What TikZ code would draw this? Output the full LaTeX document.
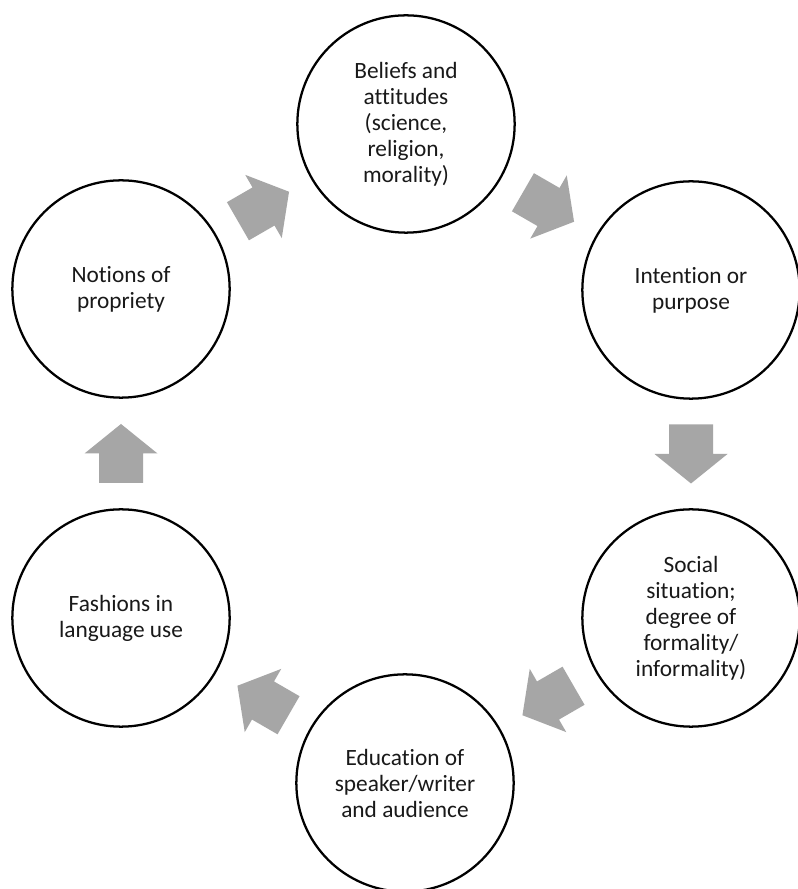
\documentclass[tikz,border=0pt]{standalone}
\usepackage{fontspec}
\setmainfont[Ligatures={NoCommon}]{Carlito}
\usetikzlibrary{calc}
\definecolor{arrowgray}{HTML}{A6A6A6}
\begin{document}
\begin{tikzpicture}[x=0.75pt,y=0.75pt,
  stage/.style={circle,draw=black,fill=white,line width=1.7pt,minimum size=163pt,
    inner sep=0pt,align=center,text=black!90,font=\fontsize{17.5}{19.5}\selectfont},
  blockarrow/.pic={\fill[arrowgray] (-29.5,-22) -- (0,-22) -- (0,-36.5) -- (29.5,0)
     -- (0,36.5) -- (0,22) -- (-29.5,22) -- cycle;}]
\fill[white] (0,0) rectangle (798,889);
\useasboundingbox (0,0) rectangle (798,889);
\begin{scope}
\clip (0,0) rectangle (798,889);
\node[stage] (bel) at (406,765) {Beliefs and\\attitudes\\(science,\\religion,\\morality)};
\node[stage] (int) at (691,599) {Intention or\\purpose};
\node[stage] (soc) at (691,271) {Social\\situation;\\degree of\\formality/\\informality)};
\node[stage] (edu) at (405,106) {Education of\\speaker/writer\\and audience};
\node[stage] (fas) at (121,271) {Fashions in\\language use};
\node[stage] (not) at (121,600) {Notions of\\propriety};
\end{scope}
\pic[rotate=30] (a1) at ($(not)!0.5!(bel)$) {blockarrow};
\pic[rotate=-30] (a2) at ($(bel)!0.5!(int)$) {blockarrow};
\pic[rotate=-90] (a3) at ($(int)!0.5!(soc)$) {blockarrow};
\pic[rotate=-150] (a4) at ($(soc)!0.5!(edu)$) {blockarrow};
\pic[rotate=150] (a5) at ($(edu)!0.5!(fas)$) {blockarrow};
\pic[rotate=90] (a6) at ($(fas)!0.5!(not)$) {blockarrow};
\end{tikzpicture}
\end{document}
